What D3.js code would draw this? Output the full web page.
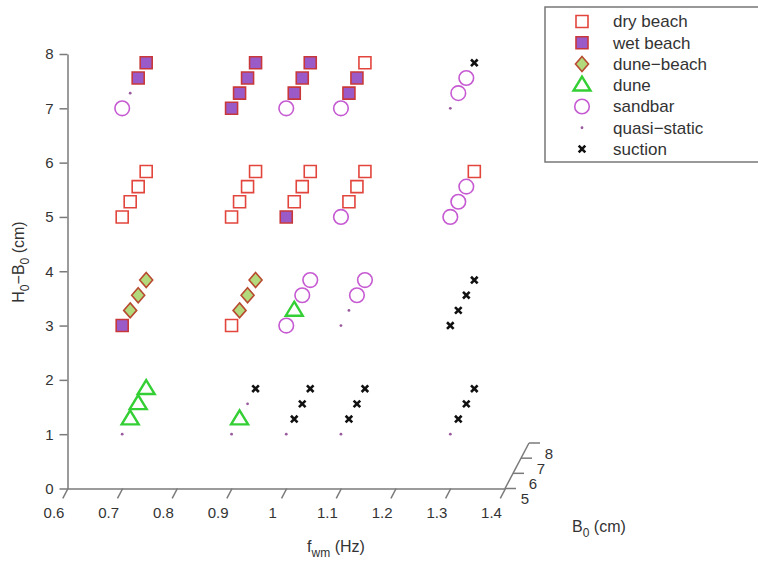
<!DOCTYPE html>
<html><head><meta charset="utf-8">
<script src="https://cdn.jsdelivr.net/npm/d3@7"></script>
<style>
body{margin:0;background:#fff;}
svg{display:block;font-family:"Liberation Sans",Arial,Helvetica,sans-serif;}
</style>
</head><body>
<svg id="chart" width="758" height="569"></svg>
<script>
// ---------- data ----------
const fwmTicks = [0.6, 0.7, 0.8, 0.9, 1.0, 1.1, 1.2, 1.3, 1.4];
const fwmTickLabels = ["0.6", "0.7", "0.8", "0.9", "1", "1.1", "1.2", "1.3", "1.4"];
const hTicks = [0, 1, 2, 3, 4, 5, 6, 7, 8];
const hTickLabels = ["0", "1", "2", "3", "4", "5", "6", "7", "8"];
const b0Ticks = [5, 6, 7, 8];
const b0TickLabels = ["5", "6", "7", "8"];
const seriesNames = ["dry beach", "wet beach", "dune\u2212beach", "dune", "sandbar", "quasi\u2212static", "suction"];

// each point: [f_wm (Hz), H0-B0 (cm), B0 (cm)]
const dryBeach = [
  [1.1, 7, 8],
  [0.7, 5, 5], [0.7, 5, 6], [0.7, 5, 7], [0.7, 5, 8],
  [0.9, 5, 5], [0.9, 5, 6], [0.9, 5, 7], [0.9, 5, 8],
  [1.0, 5, 6], [1.0, 5, 7], [1.0, 5, 8],
  [1.1, 5, 6], [1.1, 5, 7], [1.1, 5, 8],
  [1.3, 5, 8],
  [0.9, 3, 5]
];
const wetBeach = [
  [0.7, 7, 7], [0.7, 7, 8],
  [0.9, 7, 5], [0.9, 7, 6], [0.9, 7, 7], [0.9, 7, 8],
  [1.0, 7, 6], [1.0, 7, 7], [1.0, 7, 8],
  [1.1, 7, 6], [1.1, 7, 7],
  [1.0, 5, 5],
  [0.7, 3, 5]
];
const duneBeach = [
  [0.7, 3, 6], [0.7, 3, 7], [0.7, 3, 8],
  [0.9, 3, 6], [0.9, 3, 7], [0.9, 3, 8]
];
const dune = [
  [1.0, 3, 6],
  [0.7, 1, 6], [0.7, 1, 7], [0.7, 1, 8],
  [0.9, 1, 6]
];
const sandbar = [
  [0.7, 7, 5], [1.0, 7, 5], [1.1, 7, 5], [1.3, 7, 6], [1.3, 7, 7],
  [1.1, 5, 5], [1.3, 5, 5], [1.3, 5, 6], [1.3, 5, 7],
  [1.0, 3, 5], [1.0, 3, 7], [1.0, 3, 8], [1.1, 3, 7], [1.1, 3, 8]
];
const quasiStatic = [
  [0.7, 7, 6], [1.3, 7, 5],
  [1.1, 3, 5], [1.1, 3, 6],
  [0.7, 1, 5], [0.9, 1, 5], [0.9, 1, 7], [1.0, 1, 5], [1.1, 1, 5], [1.3, 1, 5]
];
const suction = [
  [1.3, 7, 8],
  [1.3, 3, 5], [1.3, 3, 6], [1.3, 3, 7], [1.3, 3, 8],
  [0.9, 1, 8],
  [1.0, 1, 6], [1.0, 1, 7], [1.0, 1, 8],
  [1.1, 1, 6], [1.1, 1, 7], [1.1, 1, 8],
  [1.3, 1, 6], [1.3, 1, 7], [1.3, 1, 8]
];

// ---------- marker styles ----------
const sqPath = s => `M${-s},${-s}H${s}V${s}H${-s}Z`;
const diaPath = (w, h) => `M0,${-h}L${w},0L0,${h}L${-w},0Z`;
const triPath = (w, h) => `M0,${-h * 0.62}L${w},${h * 0.38}L${-w},${h * 0.38}Z`;
const circPath = r => `M${r},0A${r},${r} 0 1,1 ${-r},0A${r},${r} 0 1,1 ${r},0Z`;
const xPath = s => `M${-s},${-s}L${s},${s}M${s},${-s}L${-s},${s}`;

const styles = [
  {data: dryBeach, d: sqPath(6), fill: "#fff", stroke: "#e2453c", sw: 1.6},
  {data: wetBeach, d: sqPath(6), fill: "#9a5bc9", stroke: "#c8383a", sw: 1.6},
  {data: duneBeach, d: diaPath(6.5, 7.5), fill: "#b2da7c", stroke: "#b84a30", sw: 1.6},
  {data: dune, d: triPath(8.5, 14), fill: "none", stroke: "#34cf34", sw: 2.4},
  {data: sandbar, d: circPath(7.3), fill: "none", stroke: "#c65ad2", sw: 1.6},
  {data: quasiStatic, d: circPath(1.4), fill: "#9a5a9e", stroke: "none", sw: 0},
  {data: suction, d: xPath(3.3), fill: "none", stroke: "#111", sw: 2.6}
];

// ---------- scales ----------
const svg = d3.select("#chart");
const x = d3.scaleLinear().domain([0.6, 1.4]).range([67.5, 505]);
const y = d3.scaleLinear().domain([0, 8]).range([488.5, 54]);
const zx = d3.scaleLinear().domain([5, 8]).range([0, 24]);
const zy = d3.scaleLinear().domain([5, 8]).range([0, -45.5]);
const px = d => x(d[0]) + zx(d[2]);
const py = d => y(d[1]) + zy(d[2]);

const axisColor = "#7a7a7a";
const textColor = "#333";

// ---------- y axis ----------
const gy = svg.append("g").attr("transform", `translate(${x(0.6)},0)`)
  .call(d3.axisLeft(y).tickValues(hTicks).tickFormat((d, i) => hTickLabels[i])
    .tickSize(8).tickSizeOuter(0).tickPadding(6));
gy.select(".domain").attr("stroke", axisColor).attr("stroke-width", 1.5);
gy.selectAll(".tick line").attr("stroke", axisColor).attr("stroke-width", 1.5);
gy.selectAll(".tick text").attr("fill", textColor).style("font-size", "15px")
  .style("font-family", "'Liberation Sans',Arial,sans-serif");

// ---------- x axis (slanted ticks along B0 direction) ----------
const gx = svg.append("g").attr("transform", `translate(0,${y(0)})`)
  .call(d3.axisBottom(x).tickValues(fwmTicks).tickFormat((d, i) => fwmTickLabels[i])
    .tickSizeOuter(0));
gx.select(".domain").attr("stroke", axisColor).attr("stroke-width", 1.5);
const tz = 4.35;
gx.selectAll(".tick line").attr("stroke", axisColor).attr("stroke-width", 1.5)
  .attr("x2", zx(tz)).attr("y2", zy(tz));
gx.selectAll(".tick text").attr("fill", textColor).style("font-size", "15px")
  .style("font-family", "'Liberation Sans',Arial,sans-serif")
  .attr("x", -14).attr("y", 19);

// ---------- z (B0) axis ----------
const gz = svg.append("g").attr("transform", `translate(${x(1.4)},${y(0)})`);
gz.append("line").attr("x1", zx(5)).attr("y1", zy(5)).attr("x2", zx(8)).attr("y2", zy(8))
  .attr("stroke", axisColor).attr("stroke-width", 1.5);
const zt = gz.selectAll("g.zt").data(b0Ticks).join("g").attr("class", "zt")
  .attr("transform", d => `translate(${zx(d)},${zy(d)})`);
zt.append("line").attr("x1", 0).attr("x2", 11).attr("stroke", axisColor).attr("stroke-width", 1.5);
zt.append("text").text((d, i) => b0TickLabels[i]).attr("x", 20).attr("y", 12)
  .attr("text-anchor", "middle").attr("dominant-baseline", "middle")
  .attr("fill", textColor).style("font-size", "15px");

// ---------- axis labels ----------
const yl = svg.append("text").attr("transform", "translate(24,262) rotate(-90)")
  .attr("text-anchor", "middle").attr("fill", textColor).style("font-size", "16px");
yl.append("tspan").text("H");
yl.append("tspan").text("0").attr("dy", 5).style("font-size", "12px");
yl.append("tspan").text("\u2212B").attr("dy", -5);
yl.append("tspan").text("0").attr("dy", 5).style("font-size", "12px");
yl.append("tspan").text(" (cm)").attr("dy", -5);

const xl = svg.append("text").attr("x", 336).attr("y", 552)
  .attr("text-anchor", "middle").attr("fill", textColor).style("font-size", "16px");
xl.append("tspan").text("f");
xl.append("tspan").text("wm").attr("dy", 5).style("font-size", "12px");
xl.append("tspan").text(" (Hz)").attr("dy", -5);

const zl = svg.append("text").attr("x", 572).attr("y", 532)
  .attr("fill", textColor).style("font-size", "16px");
zl.append("tspan").text("B");
zl.append("tspan").text("0").attr("dy", 5).style("font-size", "12px");
zl.append("tspan").text(" (cm)").attr("dy", -5);

// ---------- points ----------
styles.forEach(s => {
  svg.append("g").selectAll("path").data(s.data).join("path")
    .attr("d", s.d)
    .attr("transform", d => `translate(${px(d)},${py(d)})`)
    .attr("fill", s.fill).attr("stroke", s.stroke).attr("stroke-width", s.sw);
});

// ---------- legend ----------
const lg = svg.append("g");
lg.append("rect").attr("x", 545).attr("y", 7).attr("width", 240).attr("height", 155)
  .attr("fill", "#fff").attr("stroke", "#777").attr("stroke-width", 1.5);
const ly = d3.scalePoint().domain(seriesNames).range([21.5, 149]);
const le = lg.selectAll("g.le").data(styles).join("g").attr("class", "le")
  .attr("transform", (s, i) => `translate(582,${ly(seriesNames[i])})`);
le.append("path").attr("d", s => s.d).attr("fill", s => s.fill)
  .attr("stroke", s => s.stroke).attr("stroke-width", s => s.sw);
le.append("text").text((s, i) => seriesNames[i]).attr("x", 31).attr("dy", "0.35em")
  .attr("fill", textColor).style("font-size", "17px");
</script>
</body></html>
